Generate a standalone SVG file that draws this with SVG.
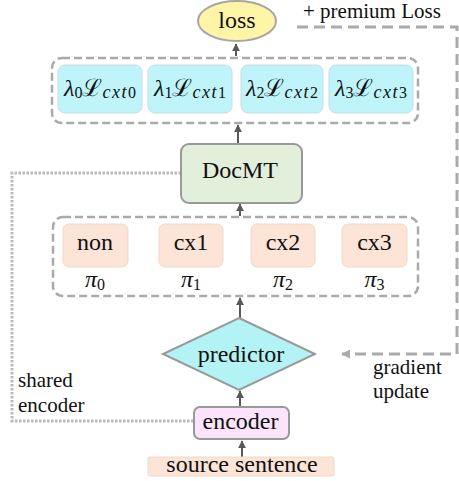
<svg xmlns="http://www.w3.org/2000/svg" width="459" height="481" viewBox="0 0 459 481" font-family="'Liberation Serif', 'Times New Roman', 'DejaVu Serif', serif">
<defs>
<marker id="ah" viewBox="0 0 10 10" refX="9" refY="5" markerWidth="4" markerHeight="4" orient="auto"><path d="M0,0 L10,5 L0,10 z" fill="#595959"/></marker>
<marker id="ahg" viewBox="0 0 10 10" refX="9" refY="5" markerWidth="3" markerHeight="3" orient="auto"><path d="M0,0 L10,5 L0,10 z" fill="#aaaaaa"/></marker>
<style>
text{fill:#111;}
.grp{fill:none;stroke:#aaaaaa;stroke-width:2.5;stroke-dasharray:8 4;}
.lam{fill:#BFF4FB;stroke:#c8dde0;stroke-width:1;}
.ctx{fill:#FCE5D6;stroke:#eed9cc;stroke-width:1;}
.arr{stroke:#595959;stroke-width:2;fill:none;marker-end:url(#ah);}
.dot{fill:none;stroke:#bbbbbb;stroke-width:3;stroke-dasharray:2.5 1.5;}
.dash{fill:none;stroke:#aaaaaa;stroke-width:3;stroke-dasharray:11 6;}
.lbl{font-size:24px;}
.ann{font-size:21px;}
.big{font-style:italic;font-size:24px;}
.sub{font-size:16px;}
.cxt{font-size:18px;font-style:italic;letter-spacing:1.5px;}
.scr{font-size:24px;font-family:'DejaVu Serif',serif;}
</style>
</defs>
<g id="connectors">
<path class="dot" d="M181,173 H12 V421 H193"/>
<path class="dash" d="M297,27 H457 V354 H342" marker-end="url(#ahg)"/>
<line class="arr" x1="236" y1="56" x2="236" y2="44"/>
<line class="arr" x1="238" y1="143" x2="238" y2="125"/>
<line class="arr" x1="240" y1="216" x2="240" y2="204"/>
<line class="arr" x1="240" y1="318" x2="240" y2="298"/>
<line class="arr" x1="240" y1="407" x2="240" y2="391"/>
<line class="arr" x1="242" y1="457" x2="242" y2="441"/>
</g>
<g id="loss">
<ellipse cx="237" cy="21" rx="39" ry="20" fill="#FFF5A6" stroke="#a6a6a6" stroke-width="2"/>
<text class="lbl" x="237" y="28" text-anchor="middle">loss</text>
</g>
<g id="lambda-group">
<rect class="grp" x="52" y="58" width="366" height="65" rx="10"/>
</g>
<g id="lambda0">
<rect class="lam" x="58" y="65" width="84" height="48" rx="7"/>
<text x="100" y="96" text-anchor="middle"><tspan class="big">λ</tspan><tspan class="sub" dy="2">0</tspan><tspan class="scr" dy="-2">ℒ</tspan><tspan class="cxt" dy="2">cxt</tspan><tspan class="sub">0</tspan></text>
</g>
<g id="lambda1">
<rect class="lam" x="148" y="65" width="84" height="48" rx="7"/>
<text x="190" y="96" text-anchor="middle"><tspan class="big">λ</tspan><tspan class="sub" dy="2">1</tspan><tspan class="scr" dy="-2">ℒ</tspan><tspan class="cxt" dy="2">cxt</tspan><tspan class="sub">1</tspan></text>
</g>
<g id="lambda2">
<rect class="lam" x="241" y="65" width="82" height="48" rx="7"/>
<text x="282" y="96" text-anchor="middle"><tspan class="big">λ</tspan><tspan class="sub" dy="2">2</tspan><tspan class="scr" dy="-2">ℒ</tspan><tspan class="cxt" dy="2">cxt</tspan><tspan class="sub">2</tspan></text>
</g>
<g id="lambda3">
<rect class="lam" x="329" y="65" width="84" height="48" rx="7"/>
<text x="371" y="96" text-anchor="middle"><tspan class="big">λ</tspan><tspan class="sub" dy="2">3</tspan><tspan class="scr" dy="-2">ℒ</tspan><tspan class="cxt" dy="2">cxt</tspan><tspan class="sub">3</tspan></text>
</g>
<g id="premium-label">
<text class="ann" x="303" y="18">+ premium Loss</text>
</g>
<g id="docmt">
<rect x="181" y="144" width="121" height="59" rx="8" fill="#E2EFDA" stroke="#999999" stroke-width="2"/>
<text class="lbl" x="240" y="178" text-anchor="middle">DocMT</text>
</g>
<g id="context-group">
<rect class="grp" x="53" y="217" width="365" height="79" rx="10"/>
</g>
<g id="non">
<rect class="ctx" x="63" y="224" width="65" height="43" rx="6"/>
<text class="lbl" x="95" y="250" text-anchor="middle">non</text>
<text x="95" y="287" text-anchor="middle"><tspan class="big">π</tspan><tspan class="sub" dy="3">0</tspan></text>
</g>
<g id="cx1">
<rect class="ctx" x="159" y="224" width="64" height="43" rx="6"/>
<text class="lbl" x="191" y="250" text-anchor="middle">cx1</text>
<text x="191" y="287" text-anchor="middle"><tspan class="big">π</tspan><tspan class="sub" dy="3">1</tspan></text>
</g>
<g id="cx2">
<rect class="ctx" x="251" y="224" width="64" height="43" rx="6"/>
<text class="lbl" x="283" y="250" text-anchor="middle">cx2</text>
<text x="283" y="287" text-anchor="middle"><tspan class="big">π</tspan><tspan class="sub" dy="3">2</tspan></text>
</g>
<g id="cx3">
<rect class="ctx" x="342" y="224" width="65" height="43" rx="6"/>
<text class="lbl" x="374.5" y="250" text-anchor="middle">cx3</text>
<text x="374.5" y="287" text-anchor="middle"><tspan class="big">π</tspan><tspan class="sub" dy="3">3</tspan></text>
</g>
<g id="predictor">
<polygon points="239,318 315,354 239,390 163,354" fill="#B3F2F5" stroke="#999999" stroke-width="2"/>
<text class="lbl" x="241" y="362" text-anchor="middle">predictor</text>
</g>
<g id="gradient-label">
<text class="ann" x="373" y="374">gradient</text>
<text class="ann" x="373" y="398">update</text>
</g>
<g id="shared-label">
<text class="ann" x="18" y="387">shared</text>
<text class="ann" x="18" y="412">encoder</text>
</g>
<g id="encoder">
<rect x="194" y="407" width="95" height="32" rx="6" fill="#FCE4FC" stroke="#999999" stroke-width="2"/>
<text class="lbl" x="240.5" y="429" text-anchor="middle">encoder</text>
</g>
<g id="source">
<rect class="ctx" x="148" y="457" width="186" height="19" rx="2"/>
<text class="lbl" x="242" y="472" text-anchor="middle">source sentence</text>
</g>
</svg>
